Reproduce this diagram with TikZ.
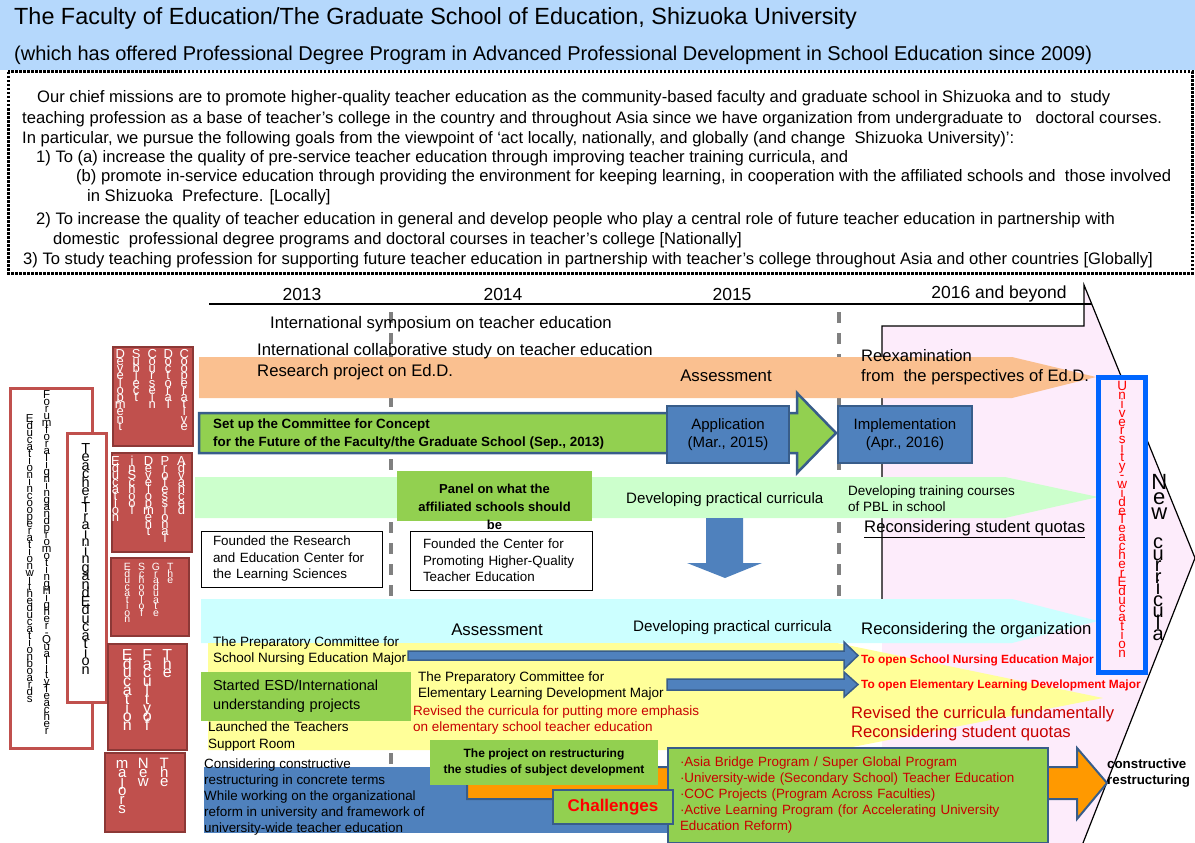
\documentclass[tikz,border=0pt]{standalone}
\usepackage{fontspec}
\setmainfont{Liberation Sans}
\definecolor{hdrblue}{RGB}{181,216,252}
\definecolor{peach}{RGB}{250,192,144}
\definecolor{leaf}{RGB}{146,208,80}
\definecolor{rimblue}{RGB}{56,93,138}
\definecolor{midblue}{RGB}{79,129,189}
\definecolor{mint}{RGB}{204,255,204}
\definecolor{aqua}{RGB}{204,255,255}
\definecolor{lemon}{RGB}{255,255,153}
\definecolor{blush}{RGB}{253,236,251}
\definecolor{boxred}{RGB}{192,80,77}
\definecolor{boxrim}{RGB}{140,56,54}
\definecolor{amber}{RGB}{255,153,0}
\definecolor{wine}{RGB}{200,0,0}
\definecolor{dashgray}{RGB}{128,128,128}
\definecolor{vivid}{RGB}{0,102,255}
\newcommand\fsz[2]{\fontsize{#1}{#2}\selectfont}
\makeatletter
\newdimen\vpitch
\newdimen\vcol
\newcommand\vword[1]{\vtop{\baselineskip=\vpitch\lineskiplimit=-\maxdimen\lineskip=0pt
  \@tfor\vw@c:=#1\do{\hbox to \vcol{\hss\vw@c\hss}}}}
\makeatother

\begin{document}
\begin{tikzpicture}[x=1pt,y=-1pt,
  lbl/.style={inner sep=0,anchor=west,align=left},
  vtxt/.style={inner sep=0,anchor=north west},
  redbox/.style={fill=boxred,draw=boxrim,line width=2.5pt},
  outbox/.style={fill=white,draw=boxred,line width=3pt},
  gbox/.style={fill=leaf,draw=rimblue,line width=2.5pt},
  bbox/.style={fill=midblue,draw=rimblue,line width=2.5pt},
  wbox/.style={fill=white,draw=black,line width=0.9pt},
  gaps/.style={draw=dashgray,line width=3.5pt,dash pattern=on 11pt off 10pt}]
\useasboundingbox (0,0) rectangle (1195,843);

% header and missions
\fill[hdrblue] (0,0) rectangle (1195,70);
\node[lbl,font=\fsz{23.4}{27}] (title) at (14,18) {The Faculty of Education/The Graduate School of Education, Shizuoka University};
\node[lbl,font=\fsz{20}{23}] (subtitle) at (14,55) {(which has offered Professional Degree Program in Advanced Professional Development in School Education since 2009)};
\draw[line width=3pt,dash pattern=on 2.5pt off 1.5pt] (8,72) rectangle (1192,273);
\begin{scope}[every node/.style={lbl,font=\fsz{16.6}{19}}]
\node (m1) at (37,98) {Our chief missions are to promote higher-quality teacher education as the community-based faculty and graduate school in Shizuoka and to\ \ study};
\node (m2) at (22,119) {teaching profession as a base of teacher’s college in the country and throughout Asia since we have organization from undergraduate to \ \ doctoral courses.};
\node (m3) at (22,139) {In particular, we pursue the following goals from the viewpoint of ‘act locally, nationally, and globally (and change\ \ Shizuoka University)’:};
\node (m4) at (36,158) {1) To (a) increase the quality of pre-service teacher education through improving teacher training curricula, and};
\node (m5) at (76,177) {(b) promote in-service education through providing the environment for keeping learning, in cooperation with the affiliated schools and\ \ those involved};
\node (m6) at (87,197) {in Shizuoka\ \ Prefecture. [Locally]};
\node (m7) at (36,220) {2) To increase the quality of teacher education in general and develop people who play a central role of future teacher education in partnership with};
\node (m8) at (53,240) {domestic\ \ professional degree programs and doctoral courses in teacher’s college [Nationally]};
\node (m9) at (23,260) {3) To study teaching profession for supporting future teacher education in partnership with teacher’s college throughout Asia and other countries [Globally]};
\end{scope}

% future area and year scale
\fill[blush] (882,326) -- (1084,326) -- (1084,285) -- (1195,558) -- (1083,843) -- (882,843) -- cycle;
\draw[line width=1.2pt] (882,600) -- (882,326) -- (1084,326) -- (1084,285) -- (1195,558) -- (1083,843);
\draw[gaps] (391,312) -- (391,765);
\draw[gaps] (839,312) -- (839,765);
\draw[line width=2pt] (209,304) -- (1092,304);
\node[font=\fsz{17.5}{20}] (y13) at (302,294) {2013};
\node[font=\fsz{17.5}{20}] (y14) at (503,294) {2014};
\node[font=\fsz{17.5}{20}] (y15) at (732,294) {2015};
\node[font=\fsz{17.5}{20}] (y16) at (999,294) {2016 and beyond};

% row 1
\fill[peach] (199,357) -- (1012,357) -- (1096,377) -- (1012,398) -- (199,398) -- cycle;
\node[lbl,font=\fsz{16.7}{19}] (symp) at (270,324) {International symposium on teacher education};
\node[lbl,font=\fsz{16.7}{19}] (collab) at (257,351) {International collaborative study on teacher education};
\node[lbl,font=\fsz{16.7}{19}] (edd) at (257,372) {Research project on Ed.D.};
\node[font=\fsz{16.8}{19}] (assess1) at (726,376) {Assessment};
\node[lbl,font=\fsz{16.6}{20}] (reexam) at (861,367) {Reexamination\\from\ \ the perspectives of Ed.D.};

% row 2
\draw[gbox] (199,413) -- (797,413) -- (797,393) -- (836,433) -- (797,473) -- (797,453) -- (199,453) -- cycle;
\node[lbl,font=\bfseries\fsz{13.4}{17.5}] (setup) at (213,434) {Set up the Committee for Concept\\for the Future of the Faculty/the Graduate School (Sep., 2013)};
\node[bbox,minimum width=122,minimum height=57,align=center,font=\fsz{15}{18}] (appl) at (728,434.5) {Application\\(Mar., 2015)};
\node[bbox,minimum width=134,minimum height=57,align=center,font=\fsz{15}{18}] (impl) at (905,434.5) {Implementation\\(Apr., 2016)};

% row 3
\fill[mint] (195,477) -- (1005,477) -- (1098,497) -- (1005,518) -- (195,518) -- cycle;
\node[fill=leaf,minimum width=195,minimum height=50] (panel) at (494.5,496) {};
\node[align=center,font=\bfseries\fsz{13}{18}] (panelt) at (494.5,507) {Panel on what the\\affiliated schools should\\be};
\node[lbl,font=\fsz{15.1}{17}] (devcur1) at (626,500) {Developing practical curricula};
\node[lbl,font=\fsz{13.5}{16}] (pbl) at (848,499) {Developing training courses\\of PBL in school};
\node[lbl,font=\fsz{16.7}{18}] (quota1) at (864,529) {\underline{Reconsidering student quotas}};

% centres founded
\node[wbox,minimum width=181,minimum height=56,inner xsep=12,text width=157,align=left,font=\fsz{13.4}{16.5}] (rcls) at (291.5,559) {Founded the Research\\and Education Center for\\the Learning Sciences};
\node[wbox,minimum width=182,minimum height=59,inner xsep=13,text width=156,align=left,font=\fsz{13.4}{16.5}] (cphq) at (501,560.5) {Founded the Center for\\Promoting Higher-Quality\\Teacher Education};
\fill[midblue] (706,518) -- (743,518) -- (743,563) -- (762,563) -- (725,578) -- (687,563) -- (706,563) -- cycle;

% row 4
\fill[aqua] (201,599) -- (1012,599) -- (1098,621) -- (1012,643) -- (201,643) -- cycle;
\node[font=\fsz{16.8}{19}] (assess2) at (497,630) {Assessment};
\node[lbl,font=\fsz{15.2}{17}] (devcur2) at (633,628) {Developing practical curricula};
\node[lbl,font=\fsz{16.7}{18}] (reorg) at (861,630) {Reconsidering the organization};

% row 5
\fill[lemon] (208,643) -- (837,643) -- (1103,698) -- (837,750) -- (208,750) -- cycle;
\draw[fill=midblue,draw=rimblue,line width=1.5pt] (408,651) -- (844,651) -- (844,642) -- (858,655.5) -- (844,669) -- (844,660) -- (408,660) -- cycle;
\draw[fill=midblue,draw=rimblue,line width=1.5pt] (667,679) -- (844,679) -- (844,672) -- (858,684.5) -- (844,697) -- (844,690) -- (667,690) -- cycle;
\node[lbl,font=\fsz{13.5}{16}] (prepn) at (213,651) {The Preparatory Committee for\\School Nursing Education Major};
\node[lbl,font=\fsz{13.5}{16}] (prepe) at (418,686) {The Preparatory Committee for\\Elementary Learning Development Major};
\node[lbl,font=\bfseries\fsz{11.9}{14},text=red] (opn) at (861,660) {To open School Nursing Education Major};
\node[lbl,font=\bfseries\fsz{11.9}{14},text=red] (ope) at (861,685) {To open Elementary Learning Development Major};
\node[fill=leaf,minimum width=210,minimum height=49,inner xsep=12,text width=186,align=left,font=\fsz{14.5}{19}] (esd) at (306,696.5) {Started ESD/International\\understanding projects};
\node[lbl,font=\fsz{13.5}{16.5},text=wine] (revel) at (413,720) {Revised the curricula for putting more emphasis\\on elementary school teacher education};
\node[lbl,font=\fsz{13.5}{17}] (tsr) at (208,737) {Launched the Teachers\\Support Room};
\node[lbl,font=\fsz{16.6}{19}, text=wine] (revfund) at (851,724) {Revised the curricula fundamentally\\Reconsidering student quotas};

% row 6
\fill[midblue] (204,767) rectangle (690,833);
\draw[fill=amber,draw=rimblue,line width=2pt] (467,767) -- (1077,767) -- (1077,748) -- (1107,783) -- (1077,819) -- (1077,799) -- (467,799) -- cycle;
\node[lbl,font=\fsz{13.4}{16}] (consid) at (204,797) {Considering constructive\\restructuring in concrete terms\\While working on the organizational\\reform in university and framework of\\university-wide teacher education};
\node[fill=leaf,minimum width=228,minimum height=45,align=center,font=\bfseries\fsz{12}{16}] (proj) at (544,762.5) {The project on restructuring\\the studies of subject development};
\node[gbox,minimum width=380,minimum height=95,inner xsep=12,text width=356,align=left,font=\fsz{13.4}{16},text=wine] (asia) at (858,795.5) {·Asia Bridge Program / Super Global Program\\·University-wide (Secondary School) Teacher Education\\·COC Projects (Program Across Faculties)\\·Active Learning Program (for Accelerating University\\Education Reform)};
\node[gbox,minimum width=120,minimum height=34,font=\bfseries\fsz{17}{20},text=red] (chal) at (613,807) {Challenges};
\node[lbl,font=\bfseries\fsz{13.3}{16}] (constr) at (1107,773) {constructive\\restructuring};

% left column
\node[outbox,minimum width=82,minimum height=360] (forum) at (51,568) {};
\node[vtxt,font=\fsz{11.5}{11}] (forumt) at (41,390) {\vpitch=7pt\vcol=11pt\vword{Forum for aligning and promoting Higher-Quality Teacher}};
\node[vtxt,font=\fsz{11.5}{11}] (forumt2) at (24,414) {\vpitch=7pt\vcol=11pt\vword{Education in cooperation with education boards}};
\node[outbox,minimum width=39,minimum height=269] (tte) at (86.5,567.5) {};
\node[vtxt,font=\fsz{14.5}{14}] (ttet) at (79,443) {\vpitch=8.5pt\vcol=13pt\vword{Teacher Training and Education}};
\node[redbox,minimum width=80,minimum height=99] (cdc) at (153,396.5) {};
\node[vtxt,font=\fsz{13}{12},text=white] (cdct) at (112,349) {\vpitch=7.2pt\vcol=16pt\vword{Development}\vword{Subject}\vword{Course in}\vword{Doctoral}\vword{Cooperative}};
\node[redbox,minimum width=80,minimum height=99] (apd) at (152,502.5) {};
\node[vtxt,font=\fsz{13}{12},text=white] (apdt) at (107,456) {\vpitch=7pt\vcol=16.5pt\vword{Education}\vword{in School}\vword{Development}\vword{Professional}\vword{Advanced}};
\node[redbox,minimum width=78,minimum height=78] (gse) at (150,597) {};
\node[vtxt,font=\fsz{10.5}{10},text=white] (gset) at (120,563) {\vpitch=6.5pt\vcol=14.3pt\vword{Education}\vword{School of}\vword{Graduate}\vword{The}};
\node[redbox,minimum width=79,minimum height=106] (foe) at (147.5,697) {};
\node[vtxt,font=\fsz{16}{15},text=white] (foet) at (117,649) {\vpitch=8.8pt\vcol=20pt\vword{Education}\vword{Faculty of}\vword{The}};
\node[redbox,minimum width=80,minimum height=79] (nmj) at (145,792.5) {};
\node[vtxt,font=\fsz{15}{14},text=white] (nmjt) at (111.5,758) {\vpitch=9pt\vcol=21pt\vword{majors}\vword{New}\vword{The}};

% right side
\node[draw=vivid,fill=blush,line width=5pt,minimum width=47,minimum height=295] (uwte) at (1121.5,524.5) {};
\node[vtxt,font=\fsz{13.5}{13},text=red] (uwtet) at (1115.5,381) {\vpitch=8.9pt\vcol=13pt\vword{University-wide Teacher Education}};
\node[vtxt,font=\fsz{22}{22}] (newc) at (1150,474) {\vpitch=15pt\vcol=18pt\vword{New}};
\node[vtxt,font=\fsz{20}{20}] (newc2) at (1149,538) {\vpitch=11.5pt\vcol=18pt\vword{curricula}};
\end{tikzpicture}
\end{document}
